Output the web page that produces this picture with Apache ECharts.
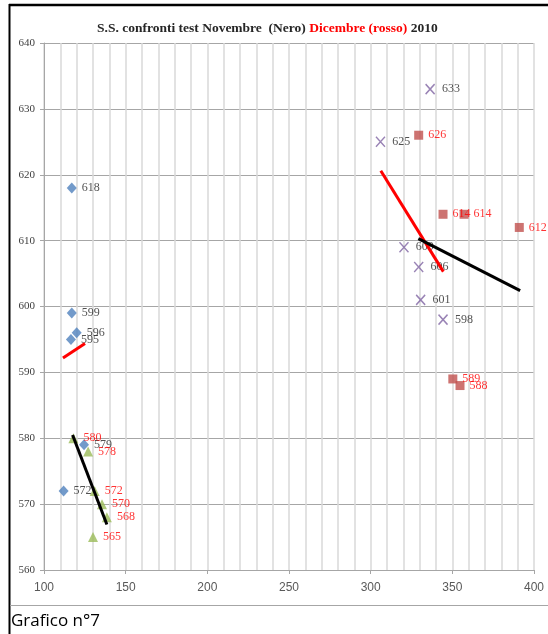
<!DOCTYPE html>
<html>
<head>
<meta charset="utf-8">
<script src="https://cdn.jsdelivr.net/npm/echarts@6/dist/echarts.min.js"></script>
<style>
html,body{margin:0;padding:0;background:#fff;}
#chart{width:548px;height:634px;}
</style>
</head>
<body>
<div id="chart"></div>
<script>
// Series values [x, y]
const novDiamonds = [[117,618],[117,599],[120,596],[116.5,595],[124.5,579],[112,572]];
const decTriangles = [[118,580],[127,578],[131,572],[135.5,570],[138.5,568],[130,565]];
const novCrosses = [[336.4,633],[306,625],[320.4,609],[329.4,606],[330.6,601],[344.3,598]];
const decSquares = [[329.4,626],[344.3,614],[357.2,614],[391,612],[350.3,589],[354.7,588]];
// Trend lines (end points)
const redLineLeft = [[111.6,592.2],[125.1,594.4]];
const blackLineLeft = [[117.5,580.5],[138.5,566.9]];
const redLineRight = [[306.2,620.6],[344.5,605.3]];
const blackLineRight = [[329.2,610.3],[391.5,602.4]];
// Axis
const xTicks = [100,150,200,250,300,350,400];
const yTicks = [560,570,580,590,600,610,620,630,640];

const serif = '"Liberation Serif", "DejaVu Serif", serif';
function lbl(color){
  return {show:true, position:'right', distance:5, color:color, fontFamily:serif, fontSize:12,
    formatter:function(p){return String(Math.round(p.value[1]));}};
}
const chart = echarts.init(document.getElementById('chart'));
chart.setOption({
  animation:false,
  backgroundColor:'#fff',
  title:{
    left:92, top:17,
    text:'{b|S.S. confronti test Novembre  (Nero) }{r|Dicembre (rosso)}{b| 2010}',
    textStyle:{
      rich:{
        b:{fontFamily:serif, fontSize:13.5, fontWeight:'bold', color:'#262626'},
        r:{fontFamily:serif, fontSize:13.5, fontWeight:'bold', color:'#ff0000'}
      }
    }
  },
  grid:{left:44, right:14, top:43, bottom:64, containLabel:false},
  xAxis:{
    type:'value', min:xTicks[0], max:xTicks[xTicks.length-1], interval:50,
    axisLine:{show:true, lineStyle:{color:'#a6a6a6', width:1}},
    axisTick:{show:true, length:4, lineStyle:{color:'#a6a6a6'}},
    axisLabel:{margin:12, color:'#595959', fontFamily:'"Liberation Sans Narrow", "Liberation Sans", Arial, sans-serif', fontSize:12},
    splitLine:{show:true, lineStyle:{color:'#d9d9d9', width:1.5}},
    minorTick:{show:false, splitNumber:5},
    minorSplitLine:{show:true, lineStyle:{color:'#d9d9d9', width:1.5}}
  },
  yAxis:{
    type:'value', min:yTicks[0], max:yTicks[yTicks.length-1], interval:10,
    axisLine:{show:true, lineStyle:{color:'#a6a6a6', width:1}},
    axisTick:{show:true, length:4, lineStyle:{color:'#a6a6a6'}},
    axisLabel:{margin:9, color:'#404040', fontFamily:serif, fontSize:11},
    splitLine:{show:true, lineStyle:{color:'#a6a6a6', width:1.2}}
  },
  graphic:[
    {type:'line', shape:{x1:9, y1:5, x2:548, y2:5}, style:{stroke:'#000', lineWidth:2.5}, silent:true},
    {type:'line', shape:{x1:9.5, y1:4, x2:9.5, y2:634}, style:{stroke:'#000', lineWidth:2}, silent:true},
    {type:'line', shape:{x1:10, y1:605.5, x2:548, y2:605.5}, style:{stroke:'#a6a6a6', lineWidth:1}, silent:true},
    {type:'text', left:11, top:613, style:{text:'Grafico n°7', fill:'#000', font:'17px "Open Sans", "Liberation Sans", sans-serif'}}
  ],
  series:[
    {type:'scatter', name:'nov1', data:novDiamonds, symbol:'diamond', symbolSize:[10,11],
      itemStyle:{color:'#4f81bd'}, label:lbl('#262626'), z:3},
    {type:'scatter', name:'dec1', data:decTriangles, symbol:'triangle', symbolSize:[10,10],
      itemStyle:{color:'#9bbb59'}, label:lbl('#ff0000'), z:3},
    {type:'scatter', name:'nov2', data:novCrosses, symbol:'path://M0,0 L10,10 M10,0 L0,10', symbolSize:[9,10],
      itemStyle:{color:'none', borderColor:'#8064a2', borderWidth:1.5}, label:lbl('#262626'), z:3},
    {type:'scatter', name:'dec2', data:decSquares, symbol:'rect', symbolSize:[9,9],
      itemStyle:{color:'#c0504d'}, label:lbl('#ff0000'), z:3},
    {type:'line', data:redLineLeft, symbol:'none', lineStyle:{color:'#ff0000', width:3}, z:4},
    {type:'line', data:blackLineLeft, symbol:'none', lineStyle:{color:'#000', width:3}, z:4},
    {type:'line', data:redLineRight, symbol:'none', lineStyle:{color:'#ff0000', width:3}, z:4},
    {type:'line', data:blackLineRight, symbol:'none', lineStyle:{color:'#000', width:3}, z:4}
  ]
});
</script>
</body>
</html>
